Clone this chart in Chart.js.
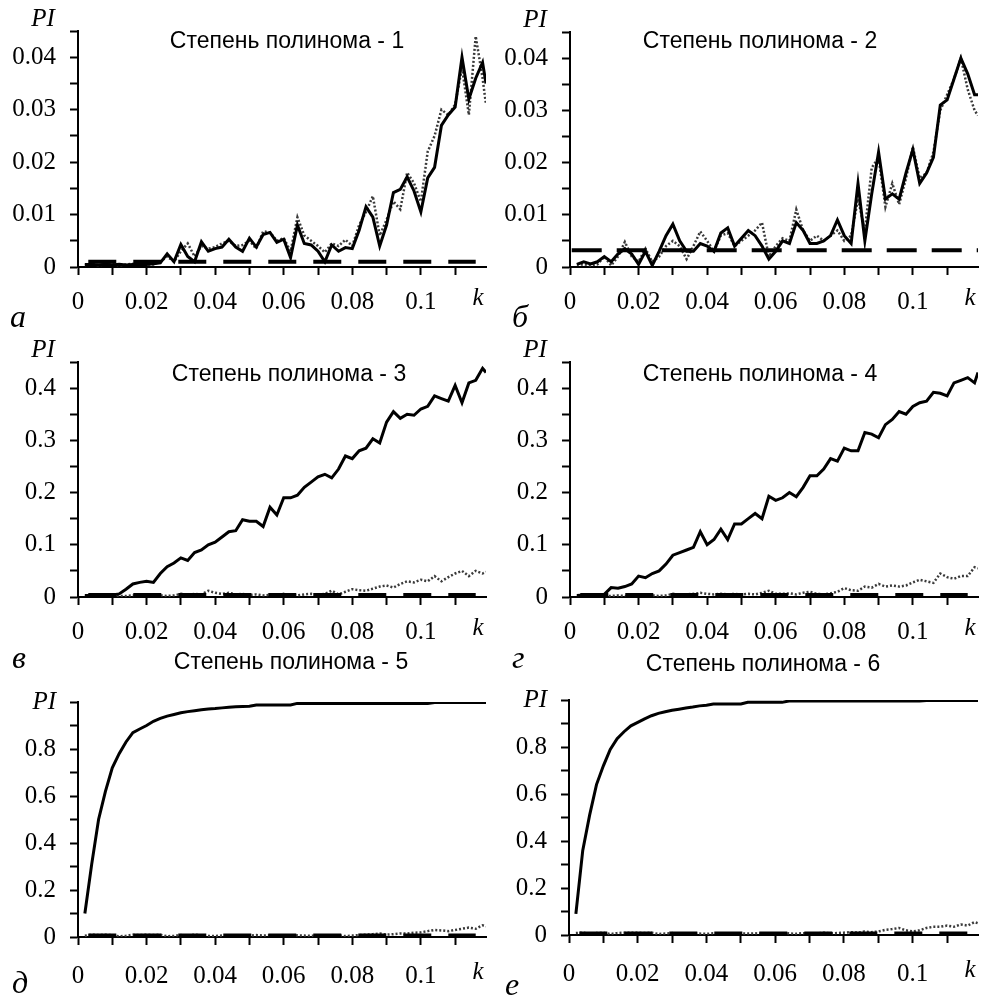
<!DOCTYPE html>
<html>
<head>
<meta charset="utf-8">
<script src="https://cdn.jsdelivr.net/npm/chart.js@4.4.0/dist/chart.umd.min.js"></script>
<style>
  body { margin: 0; background: #fff; }
  #wrap { position: relative; width: 983px; height: 1000px; }
  canvas { position: absolute; }
</style>
</head>
<body>
<div id="wrap">
  <canvas id="pa" width="490" height="330" style="left:0;top:0"></canvas>
  <canvas id="pb" width="493" height="330" style="left:490px;top:0"></canvas>
  <canvas id="pc" width="490" height="345" style="left:0;top:330px"></canvas>
  <canvas id="pd" width="493" height="345" style="left:490px;top:330px"></canvas>
  <canvas id="pe" width="490" height="355" style="left:0;top:645px"></canvas>
  <canvas id="pf" width="493" height="355" style="left:490px;top:645px"></canvas>
</div>
<script>
// k values shared by every curve
var K = [0.002,0.004,0.006,0.008,0.010,0.012,0.014,0.016,0.018,0.020,
         0.022,0.024,0.026,0.028,0.030,0.032,0.034,0.036,0.038,0.040,
         0.042,0.044,0.046,0.048,0.050,0.052,0.054,0.056,0.058,0.060,
         0.062,0.064,0.066,0.068,0.070,0.072,0.074,0.076,0.078,0.080,
         0.082,0.084,0.086,0.088,0.090,0.092,0.094,0.096,0.098,0.100,
         0.102,0.104,0.106,0.108,0.110,0.112,0.114,0.116,0.118,0.119];

// degree 1
var solid1 = [0.0005,0.0005,0.0004,0.0005,0.0004,0.0005,0.0004,0.0005,0.0005,0.0005,
              0.0006,0.0008,0.0025,0.001,0.0043,0.002,0.001,0.0048,0.003,0.0035,
              0.0038,0.0053,0.0038,0.003,0.0055,0.0038,0.0062,0.0066,0.0047,0.0053,
              0.0018,0.008,0.0045,0.0042,0.003,0.001,0.0042,0.003,0.0037,0.0035,
              0.007,0.0115,0.0095,0.004,0.008,0.0142,0.0148,0.0172,0.0145,0.0105,
              0.017,0.019,0.027,0.029,0.0305,0.040,0.032,0.036,0.039,0.035];
var dotted1 = [0.0004,0.0006,0.0003,0.0005,0.0006,0.0003,0.0005,0.0006,0.0004,0.0005,
               0.0005,0.001,0.002,0.001,0.003,0.0045,0.002,0.004,0.0035,0.0038,
               0.0045,0.005,0.004,0.0042,0.005,0.0035,0.0068,0.0066,0.005,0.0055,
               0.003,0.0095,0.006,0.005,0.004,0.0028,0.0045,0.004,0.0052,0.004,
               0.008,0.0105,0.0135,0.006,0.009,0.0125,0.011,0.018,0.016,0.0125,
               0.022,0.025,0.030,0.029,0.031,0.038,0.029,0.044,0.036,0.031];
// degree 2
var solid2 = [0.0005,0.001,0.0006,0.001,0.002,0.001,0.0025,0.0035,0.0025,0.0005,
              0.003,0.0003,0.003,0.006,0.0082,0.005,0.003,0.003,0.0045,0.004,
              0.003,0.0065,0.0075,0.004,0.0055,0.007,0.006,0.004,0.0015,0.003,
              0.005,0.0045,0.0085,0.007,0.0045,0.0045,0.005,0.006,0.009,0.006,
              0.0045,0.016,0.005,0.014,0.022,0.013,0.014,0.013,0.018,0.0225,
              0.016,0.018,0.021,0.031,0.032,0.036,0.040,0.037,0.033,0.033];
var dotted2 = [0.0005,0.0005,0.0003,0.0005,0.002,0.0003,0.002,0.0048,0.002,0.001,
               0.0035,0.001,0.002,0.004,0.005,0.004,0.0015,0.004,0.0068,0.005,
               0.003,0.006,0.0065,0.004,0.005,0.006,0.007,0.0085,0.002,0.004,
               0.0055,0.005,0.011,0.007,0.005,0.006,0.005,0.006,0.007,0.005,
               0.006,0.013,0.007,0.019,0.021,0.0115,0.016,0.012,0.017,0.023,
               0.017,0.018,0.022,0.030,0.033,0.036,0.040,0.034,0.030,0.029];
// degree 3
var solid3 = [0.003,0.003,0.003,0.003,0.004,0.006,0.015,0.025,0.028,0.030,
              0.028,0.045,0.058,0.065,0.075,0.070,0.085,0.090,0.100,0.105,
              0.115,0.125,0.127,0.148,0.145,0.145,0.135,0.172,0.157,0.190,
              0.190,0.195,0.210,0.220,0.230,0.235,0.228,0.245,0.270,0.265,
              0.280,0.285,0.303,0.295,0.335,0.355,0.342,0.350,0.348,0.360,
              0.365,0.385,0.380,0.375,0.405,0.372,0.410,0.415,0.438,0.430];
var dotted3 = [0.003,0.002,0.003,0.002,0.003,0.002,0.002,0.003,0.002,0.003,
               0.002,0.003,0.002,0.003,0.006,0.004,0.006,0.005,0.012,0.008,
               0.006,0.008,0.005,0.006,0.004,0.005,0.003,0.004,0.003,0.006,
               0.004,0.003,0.005,0.006,0.004,0.006,0.012,0.005,0.010,0.015,
               0.013,0.012,0.016,0.020,0.022,0.018,0.025,0.030,0.028,0.033,
               0.030,0.040,0.030,0.038,0.045,0.050,0.040,0.050,0.045,0.048];
// degree 4
var solid4 = [0.003,0.004,0.003,0.004,0.005,0.018,0.017,0.020,0.025,0.040,
              0.037,0.045,0.050,0.063,0.080,0.085,0.090,0.095,0.125,0.100,
              0.110,0.130,0.110,0.140,0.140,0.150,0.160,0.150,0.193,0.185,
              0.190,0.200,0.192,0.210,0.232,0.232,0.245,0.265,0.260,0.285,
              0.280,0.280,0.315,0.312,0.305,0.330,0.340,0.355,0.350,0.365,
              0.372,0.375,0.392,0.390,0.385,0.410,0.415,0.420,0.410,0.430];
var dotted4 = [0.002,0.003,0.002,0.003,0.002,0.002,0.003,0.002,0.002,0.003,
               0.002,0.003,0.002,0.003,0.006,0.004,0.005,0.006,0.008,0.006,
               0.005,0.006,0.005,0.006,0.005,0.006,0.005,0.008,0.012,0.006,
               0.006,0.007,0.005,0.008,0.010,0.006,0.005,0.007,0.010,0.017,
               0.013,0.012,0.020,0.018,0.025,0.020,0.022,0.020,0.022,0.028,
               0.033,0.030,0.027,0.045,0.038,0.035,0.040,0.040,0.057,0.055];
// degree 5
var solid5 = [0.100,0.310,0.500,0.620,0.720,0.780,0.830,0.870,0.885,0.900,
              0.918,0.930,0.940,0.947,0.954,0.959,0.963,0.967,0.970,0.972,
              0.975,0.978,0.980,0.981,0.982,0.987,0.987,0.987,0.987,0.987,
              0.987,0.994,0.994,0.994,0.994,0.994,0.994,0.994,0.994,0.994,
              0.994,0.994,0.994,0.994,0.994,0.994,0.994,0.994,0.994,0.994,
              0.994,0.998,0.998,0.998,0.998,0.998,0.998,0.998,0.998,0.998];
var dotted5 = [0.005,0.010,0.008,0.010,0.008,0.003,0.005,0.010,0.008,0.010,
               0.008,0.010,0.003,0.005,0.008,0.005,0.010,0.007,0.005,0.004,
               0.006,0.005,0.007,0.005,0.006,0.008,0.006,0.007,0.005,0.006,
               0.005,0.007,0.006,0.005,0.007,0.006,0.005,0.007,0.004,0.006,
               0.008,0.010,0.012,0.015,0.010,0.012,0.015,0.015,0.018,0.020,
               0.025,0.030,0.028,0.025,0.030,0.035,0.040,0.035,0.050,0.045];
// degree 6
var solid6 = [0.090,0.360,0.510,0.640,0.720,0.790,0.835,0.865,0.890,0.905,
              0.920,0.933,0.943,0.950,0.956,0.961,0.966,0.970,0.975,0.978,
              0.983,0.983,0.983,0.983,0.983,0.990,0.990,0.990,0.990,0.990,
              0.990,0.996,0.996,0.996,0.996,0.996,0.996,0.996,0.996,0.996,
              0.996,0.996,0.996,0.996,0.996,0.996,0.996,0.996,0.996,0.996,
              0.996,0.998,0.998,0.998,0.998,0.998,0.998,0.998,0.998,0.998];
var dotted6 = [0.008,0.010,0.005,0.008,0.010,0.004,0.008,0.010,0.009,0.010,
               0.008,0.010,0.004,0.006,0.008,0.006,0.008,0.007,0.006,0.005,
               0.007,0.006,0.008,0.006,0.007,0.006,0.007,0.006,0.005,0.007,
               0.006,0.007,0.005,0.008,0.007,0.006,0.010,0.007,0.008,0.010,
               0.012,0.010,0.015,0.012,0.015,0.022,0.025,0.030,0.020,0.015,
               0.020,0.030,0.035,0.035,0.040,0.035,0.045,0.040,0.055,0.050];

// dashed threshold lines: level and k range per panel
var dashLevel = [0.001, 0.0032, 0.004, 0.004, 0.006, 0.006];
var dashFrom  = [0.003, 0.0005, 0.003, 0.003, 0.003, 0.003];
var dashTo    = [0.116, 0.119, 0.116, 0.116, 0.116, 0.116];

// tick values and labels
var xTickVals = [0,0.01,0.02,0.03,0.04,0.05,0.06,0.07,0.08,0.09,0.10,0.11];
var xTickLabels = ['0','','0.02','','0.04','','0.06','','0.08','','0.1',''];
var yTickValsSmall = [0,0.005,0.01,0.015,0.02,0.025,0.03,0.035,0.04,0.045];
var yTickLabelsSmall = ['0','','0.01','','0.02','','0.03','','0.04',''];
var yTickValsMid = [0,0.05,0.1,0.15,0.2,0.25,0.3,0.35,0.4,0.45];
var yTickLabelsMid = ['0','','0.1','','0.2','','0.3','','0.4',''];
var yTickValsBig = [0,0.1,0.2,0.3,0.4,0.5,0.6,0.7,0.8,0.9,1];
var yTickLabelsBig = ['0','','0.2','','0.4','','0.6','','0.8','','PI'];

var titles = ['Степень полинома - 1','Степень полинома - 2','Степень полинома - 3',
              'Степень полинома - 4','Степень полинома - 5','Степень полинома - 6'];
var letters = ['а','б','в','г','д','е'];

function pts(xs, ys) {
  return xs.map(function (x, i) { return {x: x, y: ys[i]}; });
}

// draws title, axis names and the panel letter
var decor = {
  id: 'decor',
  afterDraw: function (chart, args, o) {
    var c = chart.ctx, a = chart.chartArea;
    c.save();
    c.fillStyle = '#000';
    c.textAlign = 'center';
    c.textBaseline = 'middle';
    c.font = '23px "Liberation Sans"';
    c.fillText(o.title, o.tx, o.ty);
    c.font = 'italic 25px "Liberation Serif"';
    if (o.pi) c.fillText('PI', a.left - 35, a.top - 12);
    c.fillText('k', a.right - 8, a.bottom + o.kdy);
    c.textAlign = 'left';
    c.textBaseline = 'alphabetic';
    c.font = 'italic 32px "Liberation Serif"';
    c.fillText(o.letter, o.lx, o.ly);
    c.restore();
  }
};

function makePanel(id, i, solid, dotted, yVals, yLabels, box) {
  var cv = document.getElementById(id);
  var big = yLabels === yTickLabelsBig;
  var tickFont = {family: '"Liberation Serif"', size: 25};
  new Chart(cv, {
    type: 'line',
    data: {
      datasets: [
        {data: pts(K, solid), borderColor: '#000', borderWidth: 3},
        {data: pts([dashFrom[i], dashTo[i]], [dashLevel[i], dashLevel[i]]),
         borderColor: '#000', borderWidth: 4, borderDash: i === 1 ? [30, 15] : [28, 17]},
        {data: pts(K, dotted), borderColor: '#3a3a3a', borderWidth: 2.5, borderDash: [2, 2]}
      ]
    },
    options: {
      responsive: false,
      animation: false,
      devicePixelRatio: 1,
      layout: {padding: {left: 0, top: box.t, right: cv.width - box.r, bottom: 0}},
      elements: {point: {radius: 0}, line: {tension: 0, borderCapStyle: 'butt'}},
      plugins: {
        legend: {display: false},
        tooltip: {enabled: false},
        decor: {title: titles[i], tx: box.tx, ty: box.ty, pi: !big, letter: letters[i],
                lx: box.lx, ly: box.ly, kdy: box.kpad + 19}
      },
      scales: {
        x: {
          type: 'linear', min: 0, max: 0.119,
          afterBuildTicks: function (s) { s.ticks = xTickVals.map(function (v) { return {value: v}; }); },
          afterFit: function (s) { s.height = cv.height - box.b; },
          border: {display: true, color: '#000', width: 2},
          grid: {drawOnChartArea: false, tickLength: 8, tickColor: '#000', tickWidth: 2},
          ticks: {autoSkip: false, maxRotation: 0, color: '#000', font: tickFont, padding: box.kpad,
                  callback: function (v, j) { return xTickLabels[j]; }}
        },
        y: {
          type: 'linear', min: 0, max: yVals[yVals.length - 1],
          afterBuildTicks: function (s) { s.ticks = yVals.map(function (v) { return {value: v}; }); },
          afterFit: function (s) { s.width = box.l; },
          border: {display: true, color: '#000', width: 2},
          grid: {drawOnChartArea: false, tickLength: 8, tickColor: '#000', tickWidth: 2},
          ticks: {autoSkip: false, color: '#000', padding: 14,
                  font: function (ctx) {
                    var pi = big && ctx.tick && ctx.tick.value === 1;
                    return {family: '"Liberation Serif"', size: 25, style: pi ? 'italic' : 'normal'};
                  },
                  callback: function (v, j) { return yLabels[j]; }}
        }
      }
    },
    plugins: [decor]
  });
}

makePanel('pa', 0, solid1, dotted1, yTickValsSmall, yTickLabelsSmall,
  {l: 78, t: 31, r: 486, b: 267, tx: 287, ty: 42, lx: 10, ly: 327, kpad: 12});
makePanel('pb', 1, solid2, dotted2, yTickValsSmall, yTickLabelsSmall,
  {l: 80, t: 32, r: 488, b: 267, tx: 270, ty: 42, lx: 22, ly: 327, kpad: 12});
makePanel('pc', 2, solid3, dotted3, yTickValsMid, yTickLabelsMid,
  {l: 78, t: 32, r: 486, b: 267, tx: 289, ty: 45, lx: 12, ly: 338, kpad: 12});
makePanel('pd', 3, solid4, dotted4, yTickValsMid, yTickLabelsMid,
  {l: 80, t: 32, r: 488, b: 267, tx: 270, ty: 45, lx: 22, ly: 338, kpad: 12});
makePanel('pe', 4, solid5, dotted5, yTickValsBig, yTickLabelsBig,
  {l: 78, t: 57, r: 486, b: 292, tx: 291, ty: 18, lx: 12, ly: 348, kpad: 16});
makePanel('pf', 5, solid6, dotted6, yTickValsBig, yTickLabelsBig,
  {l: 79, t: 55, r: 488, b: 290, tx: 273, ty: 20, lx: 15, ly: 350, kpad: 16});
</script>
</body>
</html>
